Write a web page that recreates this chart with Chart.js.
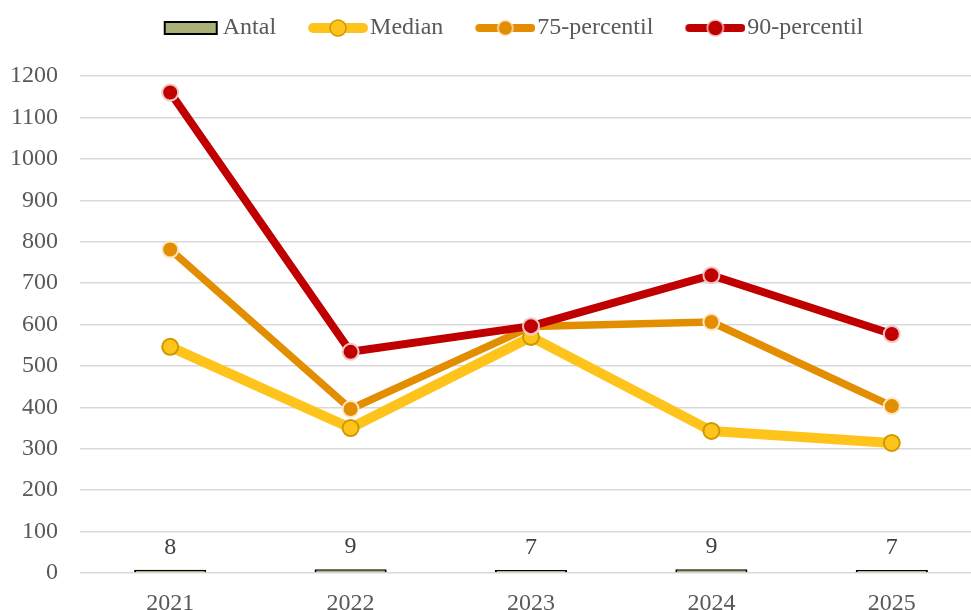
<!DOCTYPE html>
<html>
<head>
<meta charset="utf-8">
<script src="https://cdn.jsdelivr.net/npm/chart.js@4/dist/chart.umd.min.js"></script>
<style>
  html, body { margin: 0; padding: 0; background: #fff; overflow: hidden; }
  #wrap { width: 971px; height: 610px; overflow: hidden; }
</style>
</head>
<body>
<div id="wrap"><canvas id="chart" width="992" height="620"></canvas></div>
<script>
const years = ['2021', '2022', '2023', '2024', '2025'];
const antal = [8, 9, 7, 9, 7];
const median = [546, 350, 570, 343, 314];
const p75 = [781, 396, 595, 606, 403];
const p90 = [1160, 534, 596, 719, 577];

const yTicks = { min: 0, max: 1200, step: 100 };

const FONT = "'Liberation Serif', 'Times New Roman', serif";
const GREY = '#595959';

const colors = {
  antal: '#aab077',
  median: '#ffc41c',
  medianEdge: '#cc9a00',
  p75: '#e38e00',
  p75Edge: '#fde6c4',
  p90: '#c00000',
  p90Edge: '#f3c6c6'
};

// legend swatches drawn onto small canvases (used as point styles)
function lineSwatch(color, width, fill, edge, r) {
  const c = document.createElement('canvas');
  c.width = 92; c.height = 22;
  const g = c.getContext('2d');
  g.strokeStyle = color;
  g.lineWidth = width;
  g.lineCap = 'round';
  g.beginPath();
  g.moveTo(32 + width / 2, 11);
  g.lineTo(92 - width / 2, 11);
  g.stroke();
  g.beginPath();
  g.arc(62, 11, r, 0, Math.PI * 2);
  g.fillStyle = fill;
  g.fill();
  g.lineWidth = 1.5;
  g.strokeStyle = edge;
  g.stroke();
  return c;
}

function boxSwatch() {
  const c = document.createElement('canvas');
  c.width = 92; c.height = 22;
  const g = c.getContext('2d');
  g.fillStyle = colors.antal;
  g.fillRect(36, 5, 52, 12);
  g.lineWidth = 2;
  g.strokeStyle = '#000';
  g.strokeRect(36, 5, 52, 12);
  return c;
}

const swatches = [
  boxSwatch(),
  lineSwatch(colors.median, 10, colors.median, colors.medianEdge, 8),
  lineSwatch(colors.p75, 8, colors.p75, colors.p75Edge, 7.5),
  lineSwatch(colors.p90, 8, colors.p90, colors.p90Edge, 8)
];

// value labels above the Antal bars
const barLabels = {
  id: 'barLabels',
  afterDatasetsDraw(chart) {
    const meta = chart.getDatasetMeta(0);
    const ctx = chart.ctx;
    ctx.save();
    ctx.font = '24px ' + FONT;
    ctx.fillStyle = '#404040';
    ctx.textAlign = 'center';
    ctx.textBaseline = 'alphabetic';
    meta.data.forEach((bar, i) => {
      ctx.fillText(String(antal[i]), bar.x, bar.y - 16);
    });
    ctx.restore();
  }
};

// extra space between legend and plot
const legendGap = {
  id: 'legendGap',
  beforeInit(chart) {
    const fit = chart.legend.fit;
    chart.legend.fit = function () {
      fit.bind(chart.legend)();
      this.height += 26;
    };
  }
};

const lineBase = {
  type: 'line',
  tension: 0,
  borderJoinStyle: 'round',
  borderCapStyle: 'round',
  pointBorderWidth: 2,
  pointHoverRadius: 8
};

new Chart(document.getElementById('chart'), {
  data: {
    labels: years,
    datasets: [
      {
        type: 'bar',
        label: 'Antal',
        data: antal,
        backgroundColor: colors.antal,
        borderColor: '#000',
        borderWidth: 2,
        categoryPercentage: 1,
        barPercentage: 0.4,
        order: 4
      },
      Object.assign({}, lineBase, {
        label: 'Median',
        data: median,
        borderColor: colors.median,
        borderWidth: 10,
        pointRadius: 8,
        pointBackgroundColor: colors.median,
        pointBorderColor: colors.medianEdge,
        order: 3
      }),
      Object.assign({}, lineBase, {
        label: '75-percentil',
        data: p75,
        borderColor: colors.p75,
        borderWidth: 7.5,
        pointRadius: 8,
        pointBackgroundColor: colors.p75,
        pointBorderColor: colors.p75Edge,
        order: 2
      }),
      Object.assign({}, lineBase, {
        label: '90-percentil',
        data: p90,
        borderColor: colors.p90,
        borderWidth: 8,
        pointRadius: 8,
        pointBackgroundColor: colors.p90,
        pointBorderColor: colors.p90Edge,
        order: 1
      })
    ]
  },
  options: {
    responsive: false,
    animation: false,
    layout: { padding: { top: 6, left: 10, right: 0, bottom: 0 } },
    plugins: {
      tooltip: { enabled: false },
      legend: {
        position: 'top',
        labels: {
          usePointStyle: true,
          pointStyleWidth: 72,
          padding: 10,
          color: GREY,
          font: { family: FONT, size: 24 },
          generateLabels(chart) {
            return chart.data.datasets.map((ds, i) => ({
              text: ds.label,
              pointStyle: swatches[i],
              fillStyle: 'transparent',
              strokeStyle: 'transparent',
              lineWidth: 0,
              fontColor: GREY,
              datasetIndex: i,
              hidden: false
            }));
          }
        }
      }
    },
    scales: {
      x: {
        offset: true,
        grid: { display: false },
        border: { display: false },
        ticks: { color: GREY, font: { family: FONT, size: 24 }, padding: 8 },
        afterFit(scale) { scale.height = 47; }
      },
      y: {
        min: yTicks.min,
        max: yTicks.max,
        grid: { color: '#d9d9d9', lineWidth: 1.5, drawTicks: false },
        border: { display: false },
        ticks: {
          stepSize: yTicks.step,
          color: GREY,
          font: { family: FONT, size: 24 },
          padding: 22,
          callback: v => String(v)
        },
        afterFit(scale) { scale.width = 70; }
      }
    }
  },
  plugins: [barLabels, legendGap]
});
</script>
</body>
</html>
